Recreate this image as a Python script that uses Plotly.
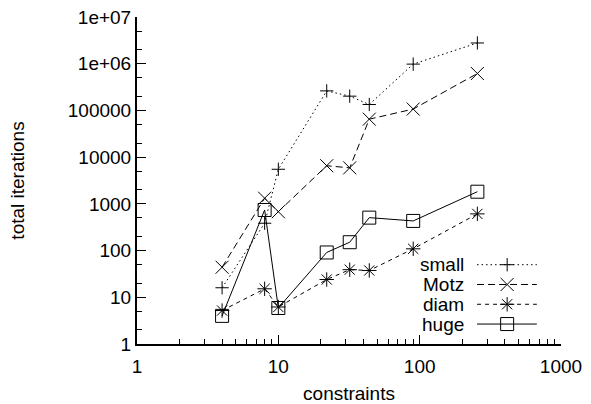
import plotly.graph_objects as go

# ---- data ----
constraints = [4, 8, 10, 22, 32, 44, 90, 256]
small = [16, 385, 5500, 262000, 202000, 134000, 980000, 2780000]
motz = [44, 1320, 680, 6550, 5900, 65000, 107000, 617000]
diam = [5.2, 15.2, 6.2, 24, 39, 37.5, 109, 610]
huge = [4.0, 740, 5.9, 91, 151, 507, 431, 1820]

series_names = ["small", "Motz", "diam", "huge"]
series_values = [small, motz, diam, huge]

x_tickvals = [1, 10, 100, 1000]
x_ticktext = ["1", "10", "100", "1000"]
y_tickvals = [1, 10, 100, 1000, 10000, 100000, 1000000, 10000000]
y_ticktext = ["1", "10", "100", "1000", "10000", "100000", "1e+06", "1e+07"]

# ---- styles ----
styles = {
    "small": dict(dash="1.5px,3px", symbol="cross-thin", size=9.5),
    "Motz": dict(dash="7px,4px", symbol="x-thin", size=13),
    "diam": dict(dash="4px,4px", symbol="asterisk", size=12),
    "huge": dict(dash="solid", symbol="square-open", size=13),
}
INK = "#000000"
FONT = "Liberation Sans, Arial, sans-serif"
FS = 19

fig = go.Figure()

for name, vals in zip(series_names, series_values):
    st = styles[name]
    fig.add_trace(go.Scatter(
        x=constraints, y=vals, mode="lines+markers", name=name,
        line=dict(color=INK, width=1, dash=st["dash"]),
        marker=dict(symbol=st["symbol"], size=st["size"], color=INK,
                    line=dict(color=INK, width=1)),
        showlegend=False,
    ))

# ---- gnuplot-style key (text left, sample right) on an overlay axis ----
key_text_x = 0.775
key_line_x = [0.802, 0.943]
key_mark_x = 0.873
key_top = 0.2425
key_step = 0.0605
for i, name in enumerate(series_names):
    st = styles[name]
    yy = key_top - i * key_step
    fig.add_trace(go.Scatter(
        x=key_line_x, y=[yy, yy], mode="lines", xaxis="x2", yaxis="y2",
        line=dict(color=INK, width=1, dash=st["dash"]), showlegend=False,
        hoverinfo="skip"))
    fig.add_trace(go.Scatter(
        x=[key_mark_x], y=[yy], mode="markers", xaxis="x2", yaxis="y2",
        marker=dict(symbol=st["symbol"], size=st["size"], color=INK,
                    line=dict(color=INK, width=1)),
        showlegend=False, hoverinfo="skip"))
    fig.add_annotation(x=key_text_x, y=yy, xref="x2", yref="y2", text=name,
                       showarrow=False, xanchor="right", yanchor="middle",
                       font=dict(family=FONT, size=FS, color=INK))

fig.update_layout(
    width=591, height=404,
    margin=dict(l=137, r=30, t=17, b=60),
    paper_bgcolor="white", plot_bgcolor="white",
    font=dict(family=FONT, size=FS, color=INK),
    showlegend=False,
    xaxis=dict(
        type="log", range=[0, 3], tickvals=x_tickvals, ticktext=x_ticktext,
        ticks="inside", ticklen=9, tickwidth=1, tickcolor=INK,
        ticklabelstandoff=4, automargin=False,
        minor=dict(ticks="inside", ticklen=5, tickwidth=1, tickcolor=INK,
                   dtick="D1", showgrid=False),
        showline=True, linewidth=2, linecolor=INK, mirror=False,
        showgrid=False, zeroline=False,
        title=dict(text="constraints", standoff=12,
                   font=dict(family=FONT, size=FS, color=INK)),
        tickfont=dict(family=FONT, size=FS, color=INK),
    ),
    yaxis=dict(
        type="log", range=[0, 7], tickvals=y_tickvals, ticktext=y_ticktext,
        ticks="inside", ticklen=9, tickwidth=1, tickcolor=INK,
        automargin=False,
        minor=dict(ticks="inside", ticklen=5, tickwidth=1, tickcolor=INK,
                   dtick="D2", showgrid=False),
        showline=True, linewidth=2, linecolor=INK, mirror=False,
        showgrid=False, zeroline=False,
        title=dict(text="total iterations", standoff=38,
                   font=dict(family=FONT, size=FS, color=INK)),
        tickfont=dict(family=FONT, size=FS, color=INK),
    ),
    xaxis2=dict(overlaying="x", range=[0, 1], visible=False, fixedrange=True),
    yaxis2=dict(overlaying="y", range=[0, 1], visible=False, fixedrange=True),
)

fig.write_html("out.html")
